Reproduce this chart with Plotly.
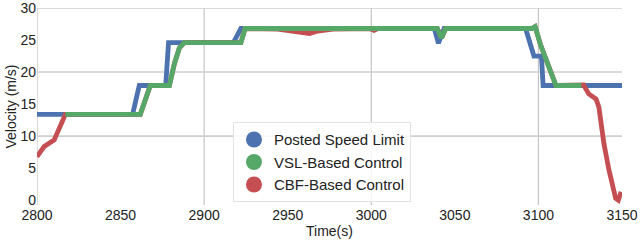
import plotly.graph_objects as go

# ---- data ----
TIME_LIMIT = [2800, 2857.2, 2861.2, 2877, 2878.7, 2917.5, 2922, 3037.7, 3040.2, 3043.6,
              3092.3, 3097.3, 3101.8, 3102.8, 3150]
SPEED_LIMIT = [13.4, 13.4, 17.9, 17.9, 24.6, 24.6, 26.8, 26.8, 24.5, 26.8,
               26.8, 22.5, 22.5, 17.9, 17.9]

TIME_VSL = [2817, 2861.8, 2867.8, 2879.2, 2882.2, 2885.2, 2888.2, 2922, 2924.5,
            3039.5, 3042, 3044.5, 3096, 3098, 3101.2, 3104.2, 3109.2, 3110.5, 3125.7]
SPEED_VSL = [13.4, 13.4, 17.9, 17.9, 21.3, 23.8, 24.6, 24.6, 26.8,
             26.8, 25.3, 26.8, 26.8, 27.1, 24.3, 22.2, 18.3, 17.9, 17.9]

TIME_CBF = [2800, 2804.4, 2810.3, 2817, 2861.8, 2867.8, 2879.2, 2882.2, 2885.2, 2888.2,
            2922, 2924.5, 2944, 2950, 2957, 2963, 2968, 2977, 2999, 3001.6, 3004,
            3039.5, 3042, 3044.5, 3096, 3098, 3101.2, 3104.2, 3109.2, 3110.5,
            3127, 3130.1, 3134.5, 3136.2, 3139.2, 3142.2, 3146.2, 3147.8, 3149.5]
SPEED_CBF = [6.8, 8.4, 9.4, 13.4, 13.4, 17.9, 17.9, 21.3, 23.8, 24.6,
             24.6, 26.8, 26.7, 26.5, 26.3, 26.0, 26.4, 26.7, 26.8, 26.5, 26.8,
             26.8, 25.3, 26.8, 26.8, 27.1, 24.3, 22.2, 18.3, 17.9,
             18.0, 16.6, 15.8, 14.5, 8.8, 4.7, 0.3, 0.0, 1.3]

X_TICKS = [2800, 2850, 2900, 2950, 3000, 3050, 3100, 3150]
Y_TICKS = [0, 5, 10, 15, 20, 25, 30]
GRID_X = [2800, 2900, 3000, 3100]
GRID_Y = [10, 20, 30]

SERIES_NAMES = ["Posted Speed Limit", "VSL-Based Control", "CBF-Based Control"]
COLORS = ["#4C72B0", "#55A868", "#C44E52"]

FONT = "Liberation Sans, Arial, Helvetica, sans-serif"

fig = go.Figure()
# draw order: blue, red, green
fig.add_trace(go.Scatter(x=TIME_LIMIT, y=SPEED_LIMIT, mode="lines",
                         line=dict(color=COLORS[0], width=4.8), showlegend=False))
fig.add_trace(go.Scatter(x=TIME_CBF, y=SPEED_CBF, mode="lines",
                         line=dict(color=COLORS[2], width=4.8), showlegend=False))
fig.add_trace(go.Scatter(x=TIME_VSL, y=SPEED_VSL, mode="lines",
                         line=dict(color=COLORS[1], width=4.8), showlegend=False))

# legend entries
for name, col in zip(SERIES_NAMES, COLORS):
    fig.add_trace(go.Scatter(x=[None], y=[None], mode="markers", name=name,
                             marker=dict(color=col, size=16, symbol="circle")))

shapes = []
for gx in GRID_X:
    shapes.append(dict(type="line", xref="x", yref="paper", x0=gx, x1=gx, y0=0, y1=1,
                       line=dict(color="#c4c4c4", width=1.2), layer="below"))
for gy in GRID_Y:
    shapes.append(dict(type="line", xref="paper", yref="y", x0=0, x1=1, y0=gy, y1=gy,
                       line=dict(color="#cfcfcf", width=1.6), layer="below"))

fig.update_layout(
    width=640, height=242,
    margin=dict(l=37, r=18, t=8, b=37, autoexpand=False),
    paper_bgcolor="white", plot_bgcolor="white",
    font=dict(family=FONT, size=14, color="#222222"),
    shapes=shapes,
    xaxis=dict(range=[2800, 3150], tickvals=X_TICKS, showgrid=False, zeroline=False,
               showline=False, ticks="", tickfont=dict(size=14), automargin=False,
               ticklabeloverflow="allow",
               title=dict(text="Time(s)", font=dict(size=14), standoff=4)),
    yaxis=dict(range=[-0.75, 30], tickvals=Y_TICKS, showgrid=False, zeroline=False,
               showline=False, ticks="", tickfont=dict(size=14), automargin=False,
               ticklabeloverflow="allow",
               title=dict(text="Velocity (m/s)", font=dict(size=14), standoff=0)),
    legend=dict(x=0.335, y=0.42, xanchor="left", yanchor="top",
                bgcolor="rgba(255,255,255,0.85)", bordercolor="#e3e3e3", borderwidth=1,
                font=dict(size=15, color="#222222"), itemsizing="trace"),
)

fig.write_html("out.html", config={"displayModeBar": False},
               post_script="document.body.style.margin='0';document.body.style.padding='0';")
